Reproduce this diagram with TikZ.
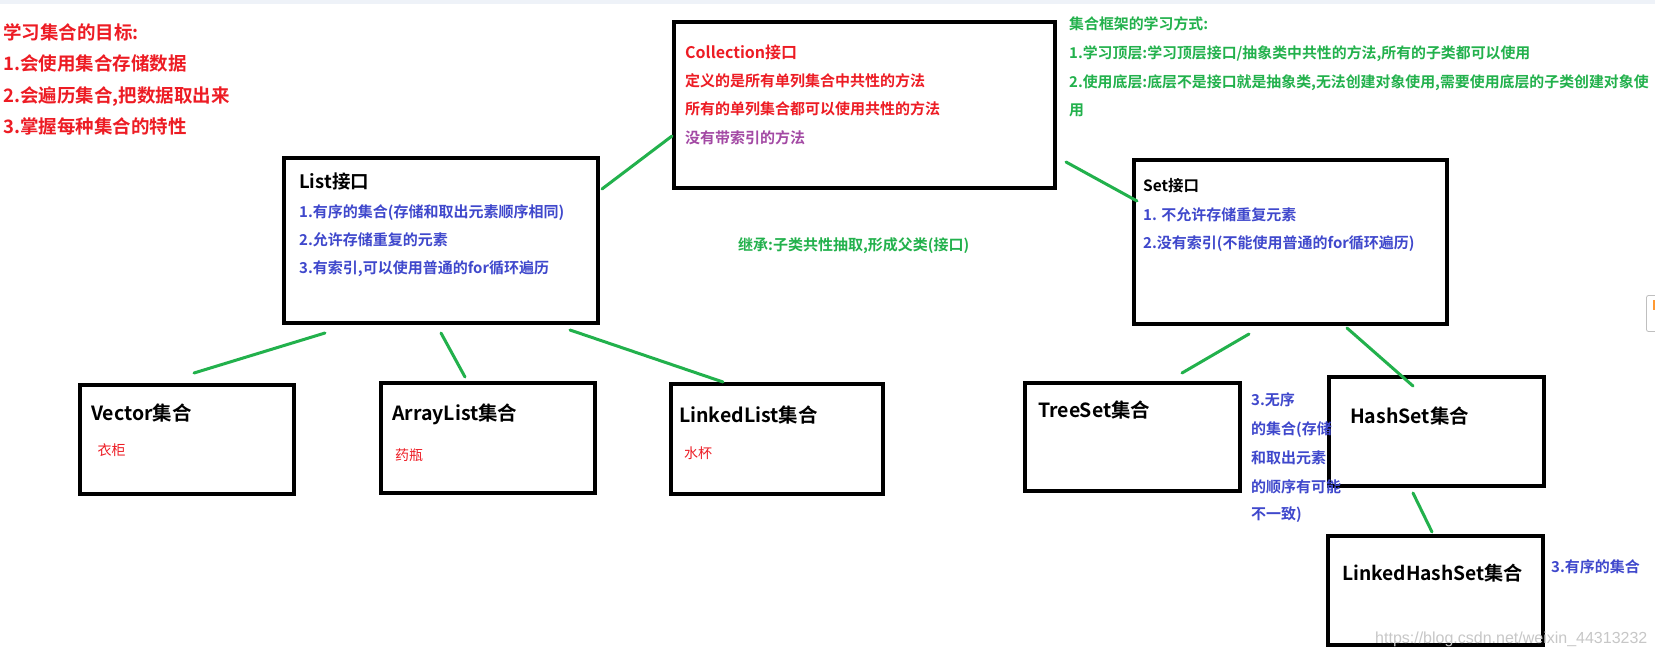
\documentclass[tikz,border=0pt]{standalone}
\usepackage{fontspec}
\setmainfont{Noto Sans CJK SC}[BoldFont={Noto Sans CJK SC Bold}]
\newfontfamily\wmfont{Liberation Sans}
\definecolor{pred}{RGB}{237,28,36}
\definecolor{pgreen}{RGB}{34,177,76}
\definecolor{pblue}{RGB}{63,72,204}
\definecolor{ppurple}{RGB}{163,73,164}
\definecolor{topbar}{RGB}{238,242,248}
\newcommand\setfs[1]{\fontsize{#1}{#1}\selectfont}
\tikzset{
  box/.style={draw=black, line width=3.6pt, inner sep=0pt},
  link/.style={draw=pgreen, line width=3pt, line cap=round},
  txt/.style={anchor=base west, inner sep=0pt},
  redhead/.style={txt, text=pred, font=\bfseries\setfs{18.5}},
  greentxt/.style={txt, text=pgreen, font=\bfseries\setfs{14.9}},
  redtxt/.style={txt, text=pred, font=\bfseries\setfs{15}},
  bluetxt/.style={txt, text=pblue, font=\bfseries\setfs{15}},
  title/.style={txt, text=black, font=\bfseries\setfs{19.5}},
  smallred/.style={txt, text=pred, font=\setfs{14}},
}
\begin{document}
\begin{tikzpicture}[x=1pt,y=-1pt]
\useasboundingbox (0,0) rectangle (1655,656);
\fill[white] (0,0) rectangle (1655,656);
\fill[topbar] (0,0) rectangle (1655,3.5);
% side widget
\draw[black!25, line width=0.8pt, rounded corners=2pt, fill=white] (1646.5,295.5) rectangle (1664,331.5);
\fill[orange!80] (1652.5,300) rectangle (1656,310);

% boxes
\node[box, minimum width=381pt, minimum height=166pt] (coll) at (864.5,105) {};
\node[box, minimum width=314pt, minimum height=165pt] (list) at (441,240.5) {};
\node[box, minimum width=313pt, minimum height=164pt] (set) at (1290.5,242) {};
\node[box, minimum width=214pt, minimum height=109pt] (vector) at (187,439.5) {};
\node[box, minimum width=214pt, minimum height=110pt] (arraylist) at (488,438) {};
\node[box, minimum width=212pt, minimum height=110pt] (linkedlist) at (777,439) {};
\node[box, minimum width=215pt, minimum height=108pt] (treeset) at (1132.5,437) {};
\node[box, minimum width=215pt, minimum height=109pt] (hashset) at (1436.5,431.5) {};
\node[box, minimum width=215pt, minimum height=109pt] (lhs) at (1435.5,590.5) {};

% connectors
\coordinate (c1a) at (602,189); \coordinate (c1b) at (672,136);
\coordinate (c2a) at (1066,162); \coordinate (c2b) at (1137,201);
\coordinate (c3a) at (325,333); \coordinate (c3b) at (194,373);
\coordinate (c4a) at (441,333); \coordinate (c4b) at (465,377);
\coordinate (c5a) at (570,330); \coordinate (c5b) at (723,382);
\coordinate (c6a) at (1249,334); \coordinate (c6b) at (1182,373);
\coordinate (c7a) at (1347,328); \coordinate (c7b) at (1413,386);
\coordinate (c8a) at (1413,493); \coordinate (c8b) at (1432,532);
\draw[link] (c1a) -- (c1b);
\draw[link] (c2a) -- (c2b);
\draw[link] (c3a) -- (c3b);
\draw[link] (c4a) -- (c4b);
\draw[link] (c5a) -- (c5b);
\draw[link] (c6a) -- (c6b);
\draw[link] (c7a) -- (c7b);
\draw[link] (c8a) -- (c8b);

% top-left goals
\node[redhead] (g0) at (3,39) {学习集合的目标:};
\node[redhead] (g1) at (3,70) {1.会使用集合存储数据};
\node[redhead] (g2) at (3,102) {2.会遍历集合,把数据取出来};
\node[redhead] (g3) at (3,133) {3.掌握每种集合的特性};

% collection texts
\node[redtxt, font=\bfseries\setfs{16}] (ct0) at (685,58) {Collection接口};
\node[redtxt] (ct1) at (685,86.7) {定义的是所有单列集合中共性的方法};
\node[redtxt] (ct2) at (685,114.7) {所有的单列集合都可以使用共性的方法};
\node[redtxt, text=ppurple] (ct3) at (685,143.7) {没有带索引的方法};

% top-right green
\node[greentxt] (w0) at (1069,29.7) {集合框架的学习方式:};
\node[greentxt] (w1) at (1069,58.7) {1.学习顶层:学习顶层接口/抽象类中共性的方法,所有的子类都可以使用};
\node[greentxt] (w2) at (1069,87.7) {2.使用底层:底层不是接口就是抽象类,无法创建对象使用,需要使用底层的子类创建对象使};
\node[greentxt] (w3) at (1069,115.7) {用};

% center green
\node[greentxt, font=\bfseries\setfs{15}] (inh) at (738,250.7) {继承:子类共性抽取,形成父类(接口)};

% list texts
\node[title, font=\bfseries\setfs{18.5}] (lt0) at (299,188.5) {List接口};
\node[bluetxt] (lt1) at (299,217.7) {1.有序的集合(存储和取出元素顺序相同)};
\node[bluetxt] (lt2) at (299,245.7) {2.允许存储重复的元素};
\node[bluetxt] (lt3) at (299,273.7) {3.有索引,可以使用普通的for循环遍历};

% set texts
\node[title, font=\bfseries\setfs{15.5}] (st0) at (1143,191) {Set接口};
\node[bluetxt] (st1) at (1143,220.7) {1. 不允许存储重复元素};
\node[bluetxt] (st2) at (1143,248.7) {2.没有索引(不能使用普通的for循环遍历)};

% children
\node[title] (vt) at (91,420) {Vector集合};
\node[smallred] (vs) at (97.5,455.3) {衣柜};
\node[title] (at) at (392,420) {ArrayList集合};
\node[smallred] (as) at (395,460.3) {药瓶};
\node[title] (lkt) at (679,422.4) {LinkedList集合};
\node[smallred] (lks) at (684,458.3) {水杯};
\node[title] (tt) at (1038,417.4) {TreeSet集合};
\node[title] (ht) at (1350,423.4) {HashSet集合};
\node[title, font=\bfseries\setfs{19.2}] (lht) at (1342,580.4) {LinkedHashSet集合};

% side notes
\node[bluetxt] (n1) at (1251,405.7) {3.无序};
\node[bluetxt] (n2) at (1251,434.7) {的集合(存储};
\node[bluetxt] (n3) at (1251,463.7) {和取出元素};
\node[bluetxt] (n4) at (1251,492.7) {的顺序有可能};
\node[bluetxt] (n5) at (1251,519.7) {不一致)};
\node[bluetxt] (n6) at (1551,572.7) {3.有序的集合};

% watermark
\node[txt, text=black!22, font=\wmfont\setfs{16}] (wm) at (1375,643) {https://blog.csdn.net/weixin\_44313232};
\end{tikzpicture}
\end{document}
